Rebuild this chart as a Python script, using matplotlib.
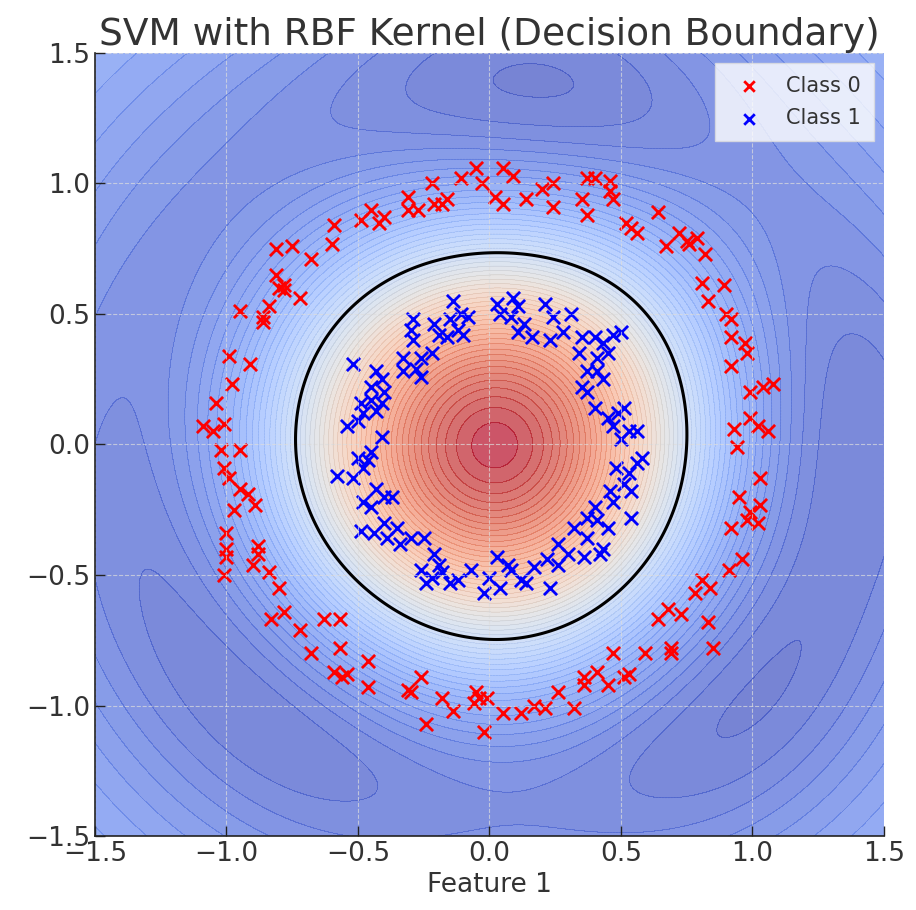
import numpy as np
import matplotlib
matplotlib.use('Agg')
import matplotlib.pyplot as plt

# %% Data
# Class 0 : outer ring (red)
class0_x = [-0.45, -0.49, -0.42, -0.40, -0.59, -0.60, -0.81, -0.75, -0.68, -0.81, -0.78, -0.78, -0.80, -0.72, -0.95, -0.84, -0.86, -0.86,
            -0.31, -0.31, -0.27, -0.22, -0.21, -0.16, -0.18, -0.11, -0.05, -0.03, 0.05, 0.09, 0.02, 0.05, 0.14, 0.20, 0.24, 0.24, 0.35, 0.37, 0.37,
            0.40, 0.46, 0.46, 0.47, 0.64, 0.52, 0.54, 0.56, 0.67, 0.72, 0.75, 0.79, 0.82, 0.76, 0.81, 0.89, 0.83, 0.90, 0.92, 0.92, 0.97,
            -0.99, -0.91, -0.98, -1.04, -1.09, -1.05, -1.01, -1.02, -0.95, -1.01, -0.99, -0.95, -0.92, -0.89, -0.97, -1.00, -0.88, -1.00,
            0.98, 0.92, 0.99, 1.04, 1.08, 0.93, 0.99, 1.02, 1.06, 0.94, 1.03, 0.95, 1.03, 0.99, 0.98, 1.02, 0.92,
            -1.00, -0.88, -0.90, -0.84, -0.80, -1.01, -0.78, -0.83, -0.72, -0.68, -0.63, -0.57, -0.57, -0.59, -0.56, -0.54, -0.46, -0.46,
            -0.26, -0.31, -0.30, -0.18, -0.14, -0.24, -0.05, -0.04, -0.06, -0.01, -0.02, 0.05, 0.12, 0.17, 0.21, 0.26, 0.32, 0.36, 0.36,
            0.96, 0.91, 0.81, 0.84, 0.78, 0.68, 0.64, 0.73, 0.83, 0.85, 0.47, 0.59, 0.69, 0.69, 0.41, 0.45, 0.51, 0.53]
class0_y = [0.90, 0.86, 0.85, 0.87, 0.84, 0.77, 0.75, 0.76, 0.71, 0.65, 0.61, 0.59, 0.60, 0.56, 0.51, 0.53, 0.49, 0.47,
            0.95, 0.90, 0.90, 1.00, 0.92, 0.94, 0.92, 1.02, 1.06, 1.00, 1.06, 1.03, 0.95, 0.92, 0.94, 0.98, 1.00, 0.91, 0.94, 1.02, 0.88,
            1.02, 1.01, 0.97, 0.94, 0.89, 0.85, 0.83, 0.81, 0.76, 0.81, 0.78, 0.79, 0.73, 0.77, 0.62, 0.61, 0.55, 0.50, 0.48, 0.41, 0.39,
            0.34, 0.31, 0.23, 0.16, 0.07, 0.05, 0.08, -0.02, -0.02, -0.09, -0.13, -0.17, -0.19, -0.23, -0.25, -0.34, -0.39, -0.40,
            0.35, 0.30, 0.20, 0.22, 0.23, 0.06, 0.10, 0.07, 0.05, -0.01, -0.13, -0.20, -0.23, -0.26, -0.29, -0.30, -0.32,
            -0.43, -0.42, -0.46, -0.49, -0.55, -0.50, -0.64, -0.67, -0.71, -0.80, -0.67, -0.67, -0.78, -0.87, -0.89, -0.88, -0.83, -0.93,
            -0.89, -0.94, -0.95, -0.97, -1.02, -1.07, -0.95, -0.97, -0.99, -0.97, -1.10, -1.03, -1.03, -1.00, -1.01, -0.95, -1.01, -0.89, -0.92,
            -0.44, -0.48, -0.52, -0.55, -0.57, -0.63, -0.67, -0.65, -0.68, -0.78, -0.80, -0.80, -0.78, -0.80, -0.87, -0.92, -0.89, -0.88]

# Class 1 : inner ring (blue)
class1_x = [-0.14, -0.11, -0.15, -0.08, -0.12, -0.16, -0.10, -0.29, -0.30, -0.29, -0.21, -0.19, 0.03, 0.09, 0.04, 0.08, 0.11, 0.13, 0.11, 0.16,
            0.21, 0.24, 0.31, 0.28, 0.23, 0.35, 0.40, 0.43, 0.47, 0.50,
            -0.52, -0.43, -0.41, -0.45, -0.40, -0.45, -0.49, -0.48, -0.43, -0.41, -0.54, -0.50, -0.41, -0.50, -0.46, -0.45, -0.48, -0.58, -0.52,
            -0.43, -0.48, -0.45, -0.40, -0.49, -0.44, -0.40, -0.39,
            -0.33, -0.26, -0.22, -0.33, -0.26, -0.28, 0.34, 0.35, 0.37, 0.37, -0.37, -0.35, -0.30, -0.25, -0.34, 0.32, 0.37, 0.26, 0.37,
            0.41, 0.45, 0.41, 0.43, 0.40, 0.45, 0.49, 0.51, 0.47, 0.53, 0.56, 0.50, 0.58, 0.56, 0.48, 0.53, 0.51, 0.46, 0.54, 0.47, 0.40, 0.41,
            0.45, 0.54, 0.43,
            -0.21, -0.19, -0.26, -0.22, -0.18, -0.12, -0.07, -0.15, -0.24, -0.02, 0.00, 0.04, 0.03, 0.07, 0.08, 0.12, 0.14, 0.17, 0.22, 0.26,
            0.30, 0.36, 0.23, 0.42]
class1_y = [0.55, 0.50, 0.48, 0.49, 0.44, 0.41, 0.42, 0.48, 0.44, 0.40, 0.46, 0.42, 0.54, 0.56, 0.50, 0.49, 0.53, 0.46, 0.43, 0.41,
            0.54, 0.49, 0.50, 0.43, 0.40, 0.41, 0.41, 0.39, 0.42, 0.43,
            0.31, 0.28, 0.25, 0.22, 0.20, 0.17, 0.16, 0.12, 0.13, 0.16, 0.07, 0.09, 0.03, -0.05, -0.06, -0.03, -0.09, -0.12, -0.13,
            -0.17, -0.22, -0.24, -0.20, -0.33, -0.34, -0.30, -0.36,
            0.33, 0.33, 0.35, 0.28, 0.26, 0.29, 0.35, 0.22, 0.20, 0.28, -0.20, -0.32, -0.36, -0.36, -0.38, -0.32, -0.28, -0.38, -0.36,
            0.33, 0.35, 0.28, 0.25, 0.14, 0.10, 0.12, 0.14, 0.07, 0.05, 0.05, 0.02, -0.05, -0.07, -0.09, -0.11, -0.15, -0.18, -0.18, -0.22, -0.24, -0.29,
            -0.32, -0.28, -0.40,
            -0.42, -0.46, -0.48, -0.51, -0.49, -0.52, -0.48, -0.53, -0.53, -0.57, -0.51, -0.55, -0.43, -0.46, -0.48, -0.52, -0.53, -0.47, -0.44, -0.46,
            -0.42, -0.43, -0.55, -0.42]

x_ticks = [-1.5, -1.0, -0.5, 0.0, 0.5, 1.0, 1.5]
y_ticks = [-1.5, -1.0, -0.5, 0.0, 0.5, 1.0, 1.5]

# %% RBF SVM fitted on the points (dual coordinate descent, bias folded into kernel)
X = np.column_stack([np.r_[class0_x, class1_x], np.r_[class0_y, class1_y]])
labels = np.r_[-np.ones(len(class0_x)), np.ones(len(class1_x))]
gamma = 1.0 / (X.shape[1] * X.var())
C = 1.0

def rbf(A, B):
    d = (A**2).sum(1)[:, None] + (B**2).sum(1)[None, :] - 2 * A @ B.T
    return np.exp(-gamma * d)

Q = (rbf(X, X) + 1.0) * np.outer(labels, labels)
alpha = np.zeros(len(labels))
for _ in range(300):
    for i in range(len(labels)):
        g = Q[i] @ alpha - 1.0
        alpha[i] = min(max(alpha[i] - g / Q[i, i], 0.0), C)
coef = alpha * labels

gx = np.linspace(-1.5, 1.5, 300)
gy = np.linspace(-1.5, 1.5, 300)
xx, yy = np.meshgrid(gx, gy)
Z = np.zeros_like(xx)
for r in range(len(gy)):
    pts = np.column_stack([xx[r], yy[r]])
    Z[r] = (rbf(pts, X) + 1.0) @ coef

# %% Plotting
fig = plt.figure(figsize=(9.16, 9.10), dpi=100)
ax = fig.add_axes([0.1037, 0.0813, 0.8613, 0.8605])

ax.contourf(xx, yy, Z, levels=50, cmap='coolwarm', alpha=0.7)
ax.contour(xx, yy, Z, levels=50, colors='k', linewidths=0.4, alpha=0.07)
ax.contour(xx, yy, Z, levels=[0], colors='k', linewidths=2.2)

ax.scatter(class0_x, class0_y, c='red', marker='x', s=90, linewidths=2, label='Class 0')
ax.scatter(class1_x, class1_y, c='blue', marker='x', s=90, linewidths=2, label='Class 1')

ax.set_xlim(-1.5, 1.5)
ax.set_ylim(-1.5, 1.5)
ax.set_xticks(x_ticks)
ax.set_yticks(y_ticks)
ax.tick_params(direction='in', length=7, width=1, labelsize=19, labelcolor='#333333', color='#222222')
ax.grid(True, linestyle='--', color='#dddddd', linewidth=0.8, alpha=0.7)
for s in ['top', 'right']:
    ax.spines[s].set_visible(False)
for s in ['left', 'bottom']:
    ax.spines[s].set_color('#222222')
    ax.spines[s].set_linewidth(1.2)

ax.set_title('SVM with RBF Kernel (Decision Boundary)', fontsize=27, color='#333333')
ax.set_xlabel('Feature 1', fontsize=19, color='#333333')
# the reference is cropped so only a sliver of the y label shows at the left edge
ax.set_ylabel('Feature 2', fontsize=19, color='#333333', labelpad=14)

leg = ax.legend(loc='upper right', fontsize=15, frameon=True, fancybox=False,
                markerscale=0.8, labelspacing=0.6, borderpad=0.6)
leg.get_frame().set_facecolor('white')
leg.get_frame().set_alpha(0.8)
leg.get_frame().set_edgecolor('#dddddd')
for t in leg.get_texts():
    t.set_color('#333333')

plt.savefig('out.png', dpi=100)
plt.close('all')
